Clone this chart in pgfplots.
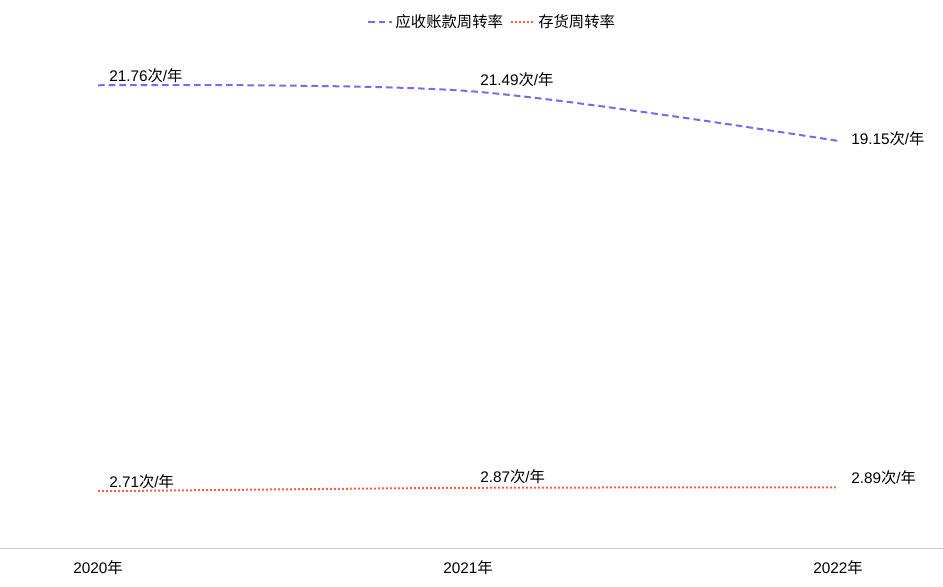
\documentclass[border=0pt]{standalone}
\usepackage{pgfplots}
\pgfplotsset{compat=1.18}
\usepackage{fontspec}
\setmainfont{Liberation Sans}
\newfontfamily\cjk{Noto Sans CJK SC}
\definecolor{cA}{HTML}{7B68EE}
\definecolor{cB}{HTML}{F4623F}
\newcommand{\lab}[1]{#1{\cjk 次}/{\cjk 年}}
\begin{document}
\begin{tikzpicture}
\begin{axis}[
  at={(0pt,27.75pt)}, anchor=south west,
  scale only axis, width=707.25pt, height=383.6pt,
  xmin=-0.2649, xmax=2.2838, ymin=0, ymax=24,
  axis x line=bottom, axis y line=none,
  axis line style={-, draw=black!20, line width=0.75pt},
  xtick={0,1,2}, xticklabels={2020{\cjk 年},2021{\cjk 年},2022{\cjk 年}},
  ytick=\empty, major tick length=0pt,
  xticklabel style={font=\fontsize{11.5}{13}\selectfont, yshift=-5pt},
  clip=false,
  legend columns=2,
  legend style={at={(0.522,1)}, anchor=center, yshift=12pt, draw=none, fill=none,
    font=\fontsize{11.5}{13}\selectfont,
    /tikz/every even column/.append style={column sep=3pt}},
  legend image code/.code={\draw[#1] (0pt,0pt) -- (18pt,0pt);},
]
\addplot[cA, line width=1.5pt, dash pattern=on 5pt off 3pt, smooth, tension=0.5] coordinates {(0,21.76) (1,21.49) (2,19.15)};
\addlegendentry{\cjk 应收账款周转率}
\addplot[cB, line width=1.5pt, dash pattern=on 1.5pt off 1.5pt, smooth, tension=0.5] coordinates {(0,2.71) (1,2.87) (2,2.89)};
\addlegendentry{\cjk 存货周转率}
\begin{scope}[every node/.style={font=\fontsize{11.5}{13}\selectfont, anchor=west, inner sep=0pt}]
\node[xshift=8.25pt, yshift=7.5pt] at (axis cs:0,21.76) {\lab{21.76}};
\node[xshift=9pt, yshift=8.25pt] at (axis cs:1,21.49) {\lab{21.49}};
\node[xshift=9.75pt, yshift=1.5pt] at (axis cs:2,19.15) {\lab{19.15}};
\node[xshift=8.25pt, yshift=7.5pt] at (axis cs:0,2.71) {\lab{2.71}};
\node[xshift=9pt, yshift=8.25pt] at (axis cs:1,2.87) {\lab{2.87}};
\node[xshift=9.75pt, yshift=7.5pt] at (axis cs:2,2.89) {\lab{2.89}};
\end{scope}
\end{axis}
\pgfresetboundingbox
\path (0pt,0pt) rectangle (707.25pt,439.5pt);
\end{tikzpicture}
\end{document}
